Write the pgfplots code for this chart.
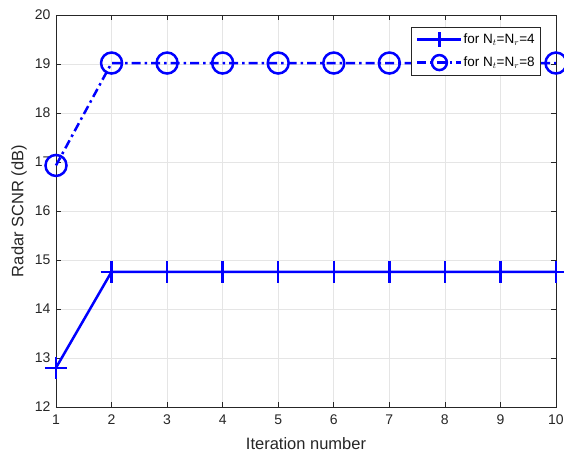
\documentclass[border=0pt]{standalone}
\usepackage{pgfplots}
\pgfplotsset{compat=1.18}
\usepackage{fontspec}
\setmainfont{Liberation Sans}
\setsansfont{Liberation Sans}
\definecolor{axgray}{rgb}{0.15,0.15,0.15}
\definecolor{mblue}{rgb}{0,0,1}

\begin{document}
\begin{tikzpicture}
\useasboundingbox (-56pt,-48pt) rectangle (508pt,407pt);
\begin{axis}[
  scale only axis,
  width=500pt, height=392pt,
  xmin=1, xmax=10, ymin=12, ymax=20,
  xtick={1,...,10}, ytick={12,...,20},
  grid=major,
  major grid style={gray!20, line width=0.6pt},
  axis line style={axgray, line width=0.7pt},
  tick style={axgray, line width=0.7pt},
  tick align=inside,
  major tick length=5pt,
  tick label style={text=axgray, font=\fontsize{14}{16}\selectfont},
  xticklabel style={yshift=-4pt},
  yticklabel style={xshift=-2pt},
  /pgf/number format/assume math mode=true,
  xlabel={Iteration number},
  ylabel={Radar SCNR (dB)},
  label style={text=axgray, font=\fontsize{16.5}{18}\selectfont},
  xlabel style={at={(axis description cs:0.5,-0.094)}, anchor=center},
  ylabel style={at={(axis description cs:-0.074,0.5)}, anchor=center},
  clip=false,
  legend style={at={(0.97,0.97)}, anchor=north east, draw=axgray,
    fill=white, font=\fontsize{13.5}{15}\selectfont, row sep=8pt,
    inner sep=5pt, line width=0.6pt,
    nodes={inner sep=1pt}},
  legend cell align=left,
  legend image code/.code={%
    \draw[mark size=7.5pt, mark repeat=2, mark phase=2]
      plot coordinates {(0pt,0pt) (22pt,0pt) (44pt,0pt)};},
]
\addplot[mblue, line width=2.5pt, mark=+, mark size=11pt,
  mark options={solid, line width=2.5pt}] coordinates {
  (1,12.80) (2,14.76) (3,14.76) (4,14.76) (5,14.76)
  (6,14.76) (7,14.76) (8,14.76) (9,14.76) (10,14.76)
};
\addlegendentry{for N$_t$=N$_r$=4}
\addplot[mblue, line width=2.5pt, dash pattern=on 9pt off 4pt on 2.5pt off 4pt,
  mark=o, mark size=10.5pt, mark options={solid, line width=2.5pt}] coordinates {
  (1,16.93) (2,19.02) (3,19.02) (4,19.02) (5,19.02)
  (6,19.02) (7,19.02) (8,19.02) (9,19.02) (10,19.02)
};
\addlegendentry{for N$_t$=N$_r$=8}
\end{axis}
\end{tikzpicture}
\end{document}
